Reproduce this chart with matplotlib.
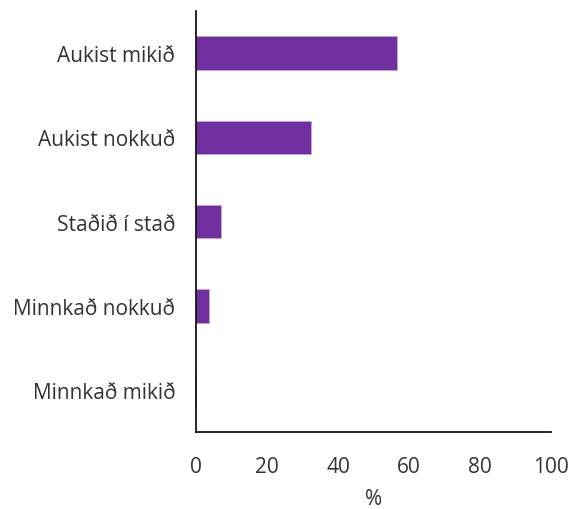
import matplotlib.pyplot as plt

categories = ["Aukist mikið", "Aukist nokkuð", "Staðið í stað", "Minnkað nokkuð", "Minnkað mikið"]
values = [56.7, 32.5, 7.1, 3.5, 0.0]
xticks = [0, 20, 40, 60, 80, 100]

plt.rcParams["font.family"] = ["Open Sans", "DejaVu Sans"]

fig = plt.figure(figsize=(5.7, 5.1), dpi=100)
ax = fig.add_axes([0.344, 0.151, 0.623, 0.825])

pos = list(range(len(categories)))
ax.barh(pos, values, height=0.4, color="#7030A0", edgecolor="#c9a3d6", linewidth=0.5)

ax.set_ylim(len(categories) - 0.5, -0.5)
ax.set_xlim(0, 100)
ax.set_yticks(pos)
ax.set_yticklabels(categories, fontsize=15, color="#333333")
ax.set_xticks(xticks)
ax.set_xticklabels([str(t) for t in xticks], fontsize=15, color="#333333")
ax.tick_params(axis="both", length=0)
ax.tick_params(axis="y", pad=15)
ax.tick_params(axis="x", pad=17)
ax.set_xlabel("%", fontsize=15, color="#333333", labelpad=8)

for s in ["top", "right"]:
    ax.spines[s].set_visible(False)
for s in ["left", "bottom"]:
    ax.spines[s].set_color("black")
    ax.spines[s].set_linewidth(1.2)

fig.savefig("out.png", dpi=100)
